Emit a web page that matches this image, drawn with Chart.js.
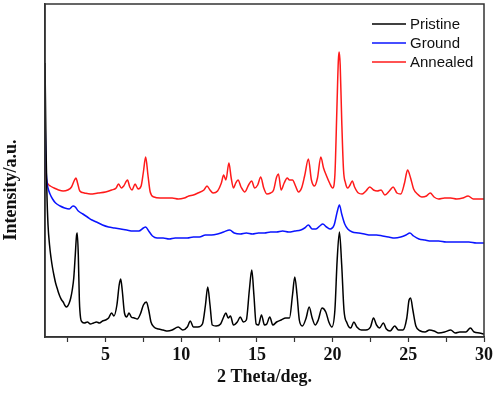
<!DOCTYPE html>
<html>
<head>
<meta charset="utf-8">
<script src="https://cdn.jsdelivr.net/npm/chart.js@4/dist/chart.umd.min.js"></script>
<style>
  html, body { margin: 0; padding: 0; background: #fff; }
  #wrap { width: 496px; height: 398px; }
</style>
</head>
<body>
<div id="wrap"><canvas id="xrd" width="496" height="398"></canvas></div>
<script>
// XRD patterns: 2θ (deg) and intensity (a.u., stacked offsets included)
const thetaPristine = [1.0,1.03,1.07,1.12,1.2,1.3,1.4,1.5,1.6,1.7,1.8,1.9,2.0,2.1,2.2,2.3,2.4,2.5,2.6,2.7,2.8,2.9,3.0,3.08,3.13,3.2,3.27,3.35,3.45,3.6,3.8,4.0,4.2,4.4,4.6,4.8,5.0,5.2,5.4,5.55,5.75,5.9,6.0,6.1,6.25,6.4,6.55,6.7,6.9,7.1,7.3,7.5,7.7,7.85,8.0,8.2,8.5,8.8,9.1,9.4,9.8,10.1,10.4,10.6,10.8,11.1,11.4,11.6,11.75,11.9,12.05,12.3,12.6,12.8,12.95,13.1,13.25,13.45,13.7,13.9,14.1,14.3,14.5,14.66,14.8,14.95,15.1,15.3,15.5,15.65,15.85,16.05,16.3,16.6,16.9,17.15,17.35,17.5,17.65,17.8,18.0,18.25,18.45,18.65,18.85,19.05,19.3,19.55,19.75,19.95,20.15,20.3,20.45,20.6,20.75,20.95,21.2,21.4,21.6,21.9,22.2,22.5,22.7,22.9,23.1,23.35,23.55,23.8,24.1,24.35,24.65,24.9,25.05,25.15,25.3,25.5,25.8,26.1,26.4,26.7,27.0,27.4,27.8,28.1,28.4,28.8,29.1,29.35,29.7,30.0];
const intensityPristine = [274,237,187,147,112,92,79,69,61,54,49,44,40,37,35,32,30,31,34,39,47,59,82,101,104,82,37,19,15,14,15,13,14,15,14,16,17,19,24,21,32,52,58,47,24,20,24,20,19,18,23,32,35,27,15,10,8,7,6,7,10,7,10,16,10,10,13,32,50,32,12,11,13,20,24,19,21,12,15,20,15,17,47,67,42,13,12,22,12,13,20,12,15,17,19,19,42,60,42,17,11,19,30,19,12,17,29,25,15,10,27,77,105,72,27,14,9,15,10,7,7,10,19,12,9,14,8,6,11,7,7,19,37,39,27,11,6,5,7,6,4,5,7,4,5,5,9,5,4,3];

const thetaGround = [1.0,1.03,1.07,1.12,1.2,1.33,1.5,1.7,2.0,2.3,2.6,2.85,3.0,3.2,3.5,3.8,4.1,4.4,4.8,5.2,5.6,6.0,6.4,6.8,7.2,7.5,7.65,7.85,8.1,8.4,8.8,9.2,9.6,10.0,10.4,10.8,11.2,11.6,12.0,12.4,12.8,13.2,13.5,13.9,14.3,14.7,15.1,15.5,15.9,16.3,16.7,17.1,17.5,17.9,18.15,18.4,18.65,18.9,19.15,19.35,19.6,19.85,20.1,20.3,20.45,20.6,20.8,21.0,21.3,21.7,22.1,22.5,22.9,23.3,23.7,24.1,24.5,24.85,25.1,25.35,25.7,26.1,26.5,27.0,27.5,28.0,28.5,29.0,29.5,30.0];
const intensityGround = [225,197,169,157,149,143,138,134,131,129,128,131,130,126,123,120,117,115,112,110,109,108,107,106,106,109,110,106,101,99,99,98,99,99,99,100,100,102,102,103,105,107,104,103,104,103,104,104,105,105,106,105,106,107,109,112,108,108,111,113,110,108,112,125,132,123,113,108,105,104,103,102,102,101,100,99,100,102,104,101,98,97,96,96,95,95,95,95,94,94];

const thetaAnnealed = [1.0,1.04,1.1,1.2,1.35,1.6,1.9,2.2,2.5,2.75,2.95,3.05,3.15,3.3,3.6,4.0,4.5,5.0,5.4,5.7,5.85,6.05,6.2,6.45,6.6,6.75,6.95,7.15,7.35,7.5,7.65,7.8,7.95,8.2,8.6,9.0,9.4,9.8,10.2,10.5,10.8,11.1,11.5,11.7,11.9,12.1,12.4,12.65,12.8,12.95,13.15,13.3,13.45,13.6,13.75,13.95,14.2,14.45,14.65,14.85,15.05,15.25,15.45,15.65,15.9,16.1,16.3,16.42,16.6,16.8,17.0,17.15,17.35,17.55,17.75,17.95,18.15,18.4,18.6,18.8,19.0,19.22,19.4,19.6,19.8,20.0,20.15,20.28,20.38,20.43,20.5,20.6,20.72,20.85,21.0,21.15,21.3,21.45,21.7,21.95,22.2,22.45,22.7,22.95,23.2,23.45,23.75,24.0,24.25,24.5,24.75,24.95,25.15,25.35,25.6,25.9,26.2,26.45,26.7,27.0,27.4,27.8,28.2,28.6,28.95,29.3,29.7,30.0];
const intensityAnnealed = [180,167,157,153,151,149,147,146,147,150,157,159,154,146,144,143,144,145,147,149,153,149,151,157,150,147,153,148,151,165,180,162,145,140,139,139,139,138,139,141,142,144,147,151,147,144,146,154,162,157,174,159,149,154,157,150,145,152,156,149,152,160,149,143,144,147,160,163,147,154,159,157,157,151,145,149,161,178,157,151,159,180,169,161,154,149,162,227,277,285,272,217,167,154,149,152,156,150,144,143,146,150,147,146,147,142,146,150,144,143,154,167,159,148,143,140,141,144,140,138,139,139,138,139,141,138,138,138];

const xTickValues = [2.5,5,7.5,10,12.5,15,17.5,20,22.5,25,27.5,30];
const seriesNames = ['Pristine', 'Ground', 'Annealed'];
const seriesColors = ['#000000', '#0a14ff', '#ff1a1a'];

const pairs = (xs, ys) => xs.map((x, i) => ({ x: x, y: ys[i] }));

const serifBold = { family: "'Liberation Serif', 'Times New Roman', serif", size: 18, weight: 'bold' };
const axisColor = '#333333';

// closes the plot box on the top and right sides
const frame = {
  id: 'frame',
  afterDraw(chart) {
    const { ctx, chartArea: a } = chart;
    ctx.save();
    ctx.strokeStyle = axisColor;
    ctx.lineWidth = 1.5;
    ctx.strokeRect(a.left, a.top, a.right - a.left, a.bottom - a.top);
    ctx.restore();
  }
};

// line-sample legend inside the top-right corner of the plot
const cornerLegend = {
  id: 'cornerLegend',
  afterDraw(chart) {
    const { ctx, chartArea: a } = chart;
    const x0 = a.right - 112, y0 = a.top + 20, gap = 19;
    ctx.save();
    ctx.font = "15px 'Liberation Sans', Arial, sans-serif";
    ctx.textBaseline = 'middle';
    chart.data.datasets.forEach((ds, i) => {
      const y = y0 + gap * i;
      ctx.strokeStyle = ds.borderColor;
      ctx.lineWidth = 1.5;
      ctx.beginPath();
      ctx.moveTo(x0, y);
      ctx.lineTo(x0 + 34, y);
      ctx.stroke();
      ctx.fillStyle = '#111';
      ctx.fillText(ds.label, x0 + 38, y + 1);
    });
    ctx.restore();
  }
};

// rotated y-axis caption
const yCaption = {
  id: 'yCaption',
  afterDraw(chart) {
    const { ctx } = chart;
    ctx.save();
    ctx.translate(11, 190);
    ctx.rotate(-Math.PI / 2);
    ctx.font = "bold 18px 'Liberation Serif', 'Times New Roman', serif";
    ctx.fillStyle = '#111';
    ctx.textAlign = 'center';
    ctx.textBaseline = 'middle';
    ctx.fillText('Intensity/a.u.', 0, 0);
    ctx.restore();
  }
};

const lineStyle = (i) => ({
  label: seriesNames[i],
  borderColor: seriesColors[i],
  backgroundColor: seriesColors[i],
  borderWidth: 1.5,
  pointRadius: 0,
  cubicInterpolationMode: 'monotone',
  fill: false
});

new Chart(document.getElementById('xrd'), {
  type: 'line',
  data: {
    datasets: [
      Object.assign(lineStyle(0), { data: pairs(thetaPristine, intensityPristine) }),
      Object.assign(lineStyle(1), { data: pairs(thetaGround, intensityGround) }),
      Object.assign(lineStyle(2), { data: pairs(thetaAnnealed, intensityAnnealed) })
    ]
  },
  options: {
    responsive: false,
    animation: false,
    devicePixelRatio: 1,
    layout: { padding: { top: 4, right: 11, left: 0, bottom: 0 } },
    plugins: { legend: { display: false }, tooltip: { enabled: false } },
    scales: {
      x: {
        type: 'linear',
        min: 1,
        max: 30,
        afterBuildTicks(scale) { scale.ticks = xTickValues.map(v => ({ value: v })); },
        afterFit(scale) { scale.height = 61; },
        ticks: {
          autoSkip: false,
          maxRotation: 0,
          padding: 3,
          color: '#111',
          font: serifBold,
          callback: (v) => (v % 5 === 0 ? String(v) : '')
        },
        grid: { display: true, drawOnChartArea: false, drawTicks: true, tickLength: 5, tickColor: axisColor, tickWidth: 1.2 },
        border: { display: true, color: axisColor, width: 1.5 },
        title: { display: true, text: '2 Theta/deg.', color: '#111', font: serifBold, padding: { top: 0, bottom: 10 } }
      },
      y: {
        min: 0,
        max: 333,
        afterFit(scale) { scale.width = 45; },
        ticks: { display: false },
        grid: { display: false, drawTicks: false },
        border: { display: true, color: axisColor, width: 1.5 }
      }
    }
  },
  plugins: [frame, cornerLegend, yCaption]
});
</script>
</body>
</html>
